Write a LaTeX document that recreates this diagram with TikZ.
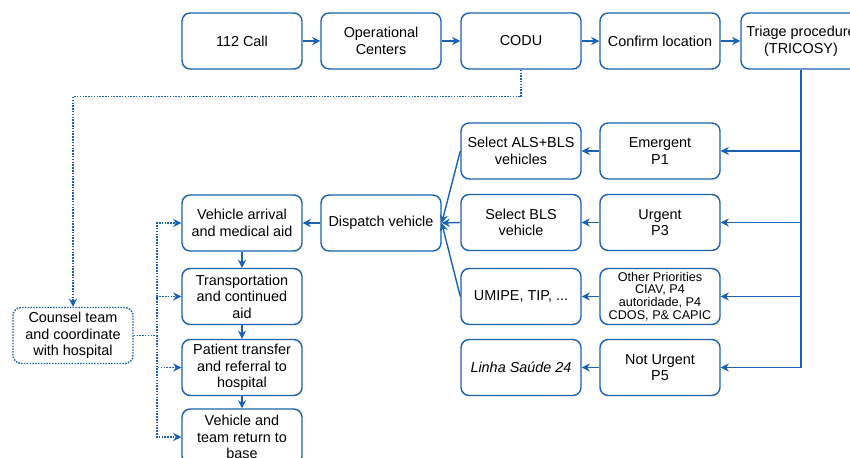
\documentclass[tikz,border=0pt]{standalone}
\usepackage{fontspec}
\setmainfont{Liberation Sans}
\usetikzlibrary{arrows.meta}
\definecolor{flowblue}{HTML}{1B62B2}

\begin{document}
\begin{tikzpicture}[x=0.03cm, y=-0.03cm,
  box/.style={draw=flowblue, line width=1.2pt, rounded corners=7pt, fill=white,
    minimum width=3.6cm, minimum height=1.68cm, align=center, inner sep=1pt,
    font=\fontsize{12.3}{14.2}\selectfont},
  dotbox/.style={box, dash pattern=on 1.3pt off 1.1pt},
  link/.style={draw=flowblue, line width=1.2pt, -{Stealth[length=7pt,width=7pt]}},
  dotlink/.style={link, dash pattern=on 1.3pt off 1.1pt}]
  % Frame of the picture
  \path[use as bounding box] (0,0) rectangle (850,458);
  \clip (0,0) rectangle (850,458);

  % Top row
  \node[box] (call)     at (242,41) {112 Call};
  \node[box] (centers)  at (381,41) {Operational\\Centers};
  \node[box] (codu)     at (521,41) {CODU};
  \node[box] (location) at (660,41) {Confirm location};
  \node[box] (triage)   at (801,41) {Triage procedure\\(TRICOSY)};

  % Priorities
  \node[box] (p1)     at (660,151)   {Emergent\\P1};
  \node[box] (p3)     at (660,222.5) {Urgent\\P3};
  \node[box, font=\fontsize{10.8}{10.8}\selectfont] (p4) at (660,296.5)
    {Other Priorities\\CIAV, P4\\autoridade, P4\\CDOS, P\& CAPIC};
  \node[box] (p5)     at (660,367.5) {Not Urgent\\P5};

  % Means
  \node[box] (als)    at (521,151)   {Select ALS+BLS\\vehicles};
  \node[box] (bls)    at (521,222.5) {Select BLS\\vehicle};
  \node[box] (umipe)  at (521,296.5) {UMIPE, TIP, ...};
  \node[box] (linha)  at (521,367.5) {\itshape Linha Saúde 24};

  % Dispatch and field work
  \node[box] (dispatch)  at (381,223)   {Dispatch vehicle};
  \node[box] (arrival)   at (242,223)   {Vehicle arrival\\and medical aid};
  \node[box] (transport) at (242,296.5) {Transportation\\and continued\\aid};
  \node[box] (transfer)  at (242,367.5) {Patient transfer\\and referral to\\hospital};
  \node[box] (return)    at (242,437)   {Vehicle and\\team return to\\base};
  \node[dotbox] (counsel) at (73,335.5) {Counsel team\\and coordinate\\with hospital};

  % Top flow
  \draw[link] (call) -- (centers);
  \draw[link] (centers) -- (codu);
  \draw[link] (codu) -- (location);
  \draw[link] (location) -- (triage);

  % Triage branches
  \draw[link] (triage.south) |- (p1.east);
  \draw[link] (triage.south) |- (p3.east);
  \draw[link] (triage.south) |- (p4.east);
  \draw[link] (triage.south) |- (p5.east);

  \draw[link] (p1) -- (als);
  \draw[link] (p3) -- (bls);
  \draw[link] (p4) -- (umipe);
  \draw[link] (p5) -- (linha);

  % Vehicles to dispatch
  \draw[link] (als.west) -- (dispatch.east);
  \draw[link] (bls.west) -- (dispatch.east);
  \draw[link] (umipe.west) -- (dispatch.east);

  \draw[link] (dispatch) -- (arrival);
  \draw[link] (arrival) -- (transport);
  \draw[link] (transport) -- (transfer);
  \draw[link] (transfer) -- (return);

  % Coordination with hospital
  \coordinate (spine) at (157,335.5);
  \draw[dotlink] (codu.south) -- ++(0,27) -| (counsel.north);
  \draw[dotlink] (counsel.east) -- (spine) |- (arrival.west);
  \draw[dotlink] (counsel.east) -- (spine) |- (transport.west);
  \draw[dotlink] (counsel.east) -- (spine) |- (transfer.west);
  \draw[dotlink] (counsel.east) -- (spine) |- (return.west);
\end{tikzpicture}
\end{document}
